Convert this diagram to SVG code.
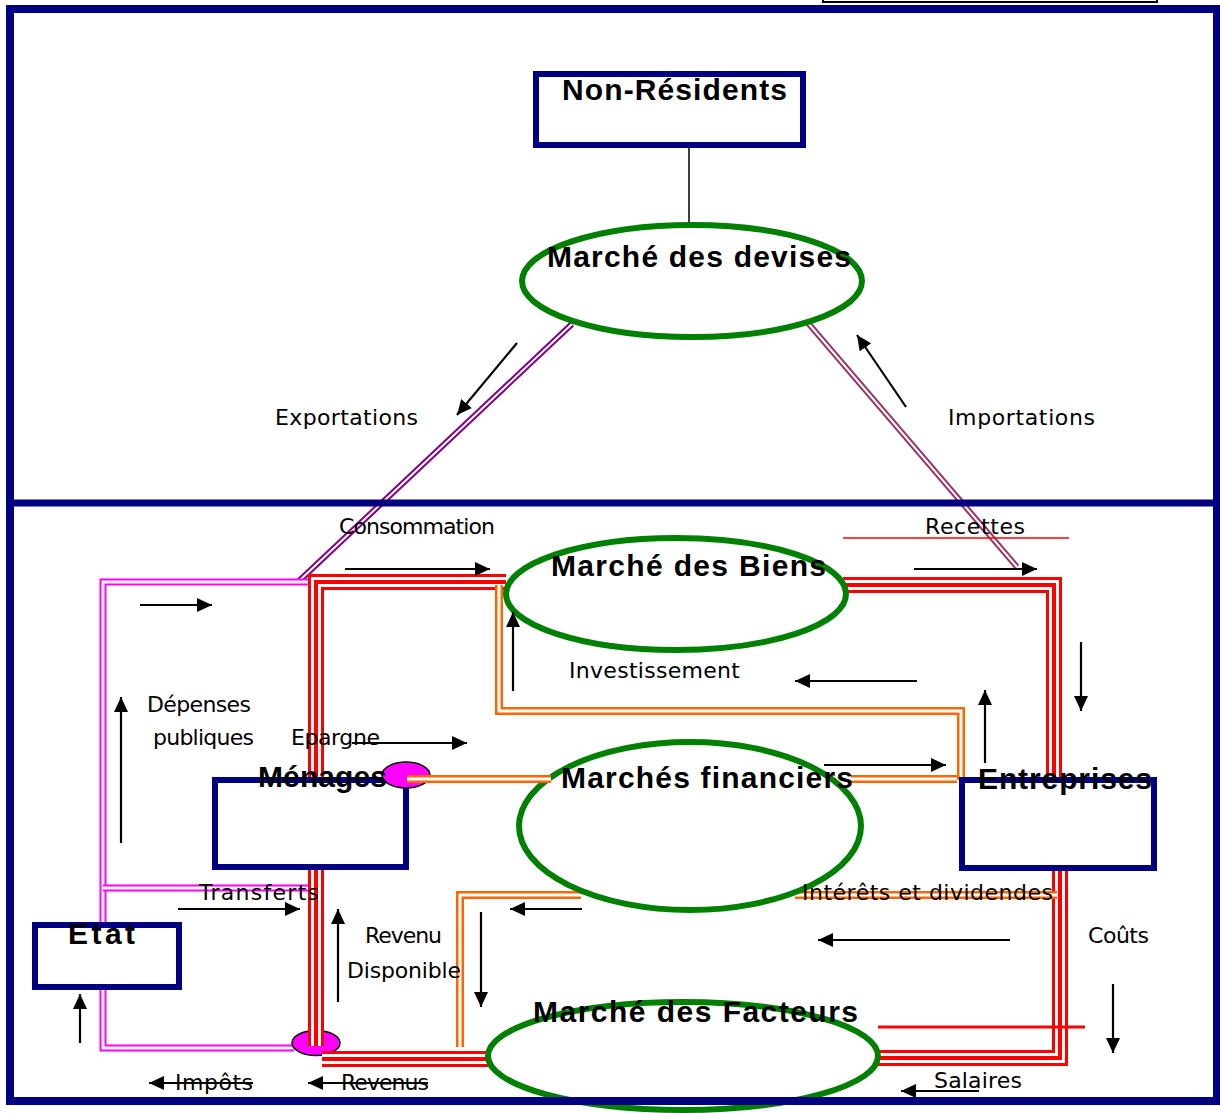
<svg xmlns="http://www.w3.org/2000/svg" width="1220" height="1113" viewBox="0 0 1220 1113">
<style>
.t{font-family:"DejaVu Sans","Liberation Sans",sans-serif;font-size:22px;fill:#000}
.b{font-family:"Liberation Sans","DejaVu Sans",sans-serif;font-size:30px;font-weight:bold;fill:#000}
.box{fill:none;stroke:#000080;stroke-width:6}
.mk{fill:none;stroke:#008000;stroke-width:6}
.ar{stroke:#000;stroke-width:2.2;fill:none;marker-end:url(#ah)}
.r1{fill:none;stroke:#f00;stroke-width:16}
.r2{fill:none;stroke:#fff;stroke-width:10}
.r3{fill:none;stroke:#f00;stroke-width:4}
.o1{fill:none;stroke:#ff6600;stroke-width:8}
.o2{fill:none;stroke:#fff;stroke-width:3}
.m1{fill:none;stroke:#ff00ff;stroke-width:7}
.m2{fill:none;stroke:#fff;stroke-width:3}
.pk{fill:#ff00ff;stroke:#000;stroke-width:1.5}
</style>
<defs>
<marker id="ah" markerUnits="userSpaceOnUse" markerWidth="16" markerHeight="14" refX="15" refY="7" orient="auto"><path d="M0,0 L15,7 L0,14 z" fill="#000"/></marker>
<path id="rA" d="M316,780 V582 H506"/>
<path id="rB" d="M316,868 V1046"/>
<path id="rC" d="M322,1059 H490"/>
<path id="rD" d="M843,585 H1054 V780"/>
<path id="rE" d="M1060,870 V1058 H878"/>
<path id="oA" d="M499,585 V711 H961 V780"/>
<path id="oB" d="M407,779 H551"/>
<path id="oC" d="M851,779 H957"/>
<path id="oD" d="M795,895 H1057"/>
<path id="oE" d="M581,895 H460 V1047"/>
<path id="mA" d="M310,582 H103 V923"/>
<path id="mB" d="M103,888 H316"/>
<path id="mC" d="M103,990 V1048 H294"/>
</defs>
<rect x="0" y="0" width="1220" height="1113" fill="#fff"/>
<rect x="823" y="-20" width="334" height="22" fill="none" stroke="#000" stroke-width="2"/>

<g id="connectors">
<line x1="689" y1="146" x2="689" y2="224" stroke="#000" stroke-width="1.5"/>
<line x1="572" y1="324" x2="299" y2="581" stroke="#800080" stroke-width="6"/>
<line x1="572" y1="324" x2="299" y2="581" stroke="#fff" stroke-width="2"/>
<line x1="808" y1="323" x2="1017" y2="567" stroke="#993366" stroke-width="6"/>
<line x1="808" y1="323" x2="1017" y2="567" stroke="#fff" stroke-width="2"/>
<g>
<use href="#mA" class="m1"/><use href="#mA" class="m2"/>
<use href="#mB" class="m1"/><use href="#mB" class="m2"/>
<use href="#mC" class="m1"/><use href="#mC" class="m2"/>
</g>
<ellipse class="pk" cx="316" cy="1043" rx="24" ry="12.5"/>
<g>
<use href="#rA" class="r1"/><use href="#rA" class="r2"/><use href="#rA" class="r3"/>
<use href="#rB" class="r1"/><use href="#rB" class="r2"/><use href="#rB" class="r3"/>
<use href="#rC" class="r1"/><use href="#rC" class="r2"/><use href="#rC" class="r3"/>
<use href="#rD" class="r1"/><use href="#rD" class="r2"/><use href="#rD" class="r3"/>
<use href="#rE" class="r1"/><use href="#rE" class="r2"/><use href="#rE" class="r3"/>
</g>
<line x1="843" y1="538" x2="1069" y2="538" stroke="#f00" stroke-width="1.5"/>
<line x1="878" y1="1027" x2="1085" y2="1027" stroke="#f00" stroke-width="3"/>
<g>
<use href="#oA" class="o1"/><use href="#oA" class="o2"/>
<use href="#oC" class="o1"/><use href="#oC" class="o2"/>
<use href="#oD" class="o1"/><use href="#oD" class="o2"/>
<use href="#oE" class="o1"/><use href="#oE" class="o2"/>
</g>
</g>

<g id="nonresidents"><rect class="box" x="536" y="74" width="267" height="71"/><text class="b" x="562" y="100" textLength="225">Non-Résidents</text></g>
<g id="devises"><ellipse class="mk" cx="692" cy="281" rx="170" ry="56"/><text class="b" x="547" y="267" textLength="304">Marché des devises</text></g>
<g id="biens"><ellipse class="mk" cx="676" cy="594" rx="170" ry="56"/><text class="b" x="551" y="576" textLength="275">Marché des Biens</text></g>
<g id="financiers"><ellipse class="mk" cx="690" cy="826" rx="171" ry="84"/><text class="b" x="561" y="788" textLength="292">Marchés financiers</text></g>
<g id="facteurs"><ellipse class="mk" cx="683" cy="1056" rx="195" ry="54"/><text class="b" x="533" y="1022" textLength="325">Marché des Facteurs</text></g>
<g id="menages"><rect class="box" x="215" y="780" width="191" height="87"/><ellipse class="pk" cx="406" cy="775" rx="24" ry="13"/><use href="#oB" class="o1"/><use href="#oB" class="o2"/><text class="b" x="258" y="787" textLength="129">Ménages</text></g>
<g id="entreprises"><rect class="box" x="962" y="780" width="192" height="88"/><text class="b" x="978" y="789" textLength="174">Entreprises</text></g>
<g id="etat"><rect class="box" x="35" y="925" width="144" height="62"/><text class="b" x="68" y="944" textLength="67">Etat</text></g>

<g id="labels">
<text class="t" x="275" y="425" textLength="143">Exportations</text>
<text class="t" x="948" y="425" textLength="147">Importations</text>
<text class="t" x="339" y="534" textLength="156">Consommation</text>
<text class="t" x="925" y="534" textLength="100">Recettes</text>
<text class="t" x="569" y="678" textLength="171">Investissement</text>
<text class="t" x="147" y="712" textLength="104">Dépenses</text>
<text class="t" x="153" y="745" textLength="101">publiques</text>
<text class="t" x="291" y="745" textLength="89">Epargne</text>
<text class="t" x="199" y="900" textLength="120">Transferts</text>
<text class="t" x="365" y="943" textLength="77">Revenu</text>
<text class="t" x="347" y="978" textLength="114">Disponible</text>
<text class="t" x="802" y="900" textLength="251">Intérêts et dividendes</text>
<text class="t" x="1088" y="943" textLength="61">Coûts</text>
<text class="t" x="175" y="1090" textLength="78">Impôts</text>
<text class="t" x="341" y="1090" textLength="88">Revenus</text>
<text class="t" x="934" y="1088" textLength="88">Salaires</text>
</g>

<g id="arrows">
<line class="ar" x1="517" y1="343" x2="457" y2="415"/>
<line class="ar" x1="906" y1="407" x2="857" y2="335"/>
<line class="ar" x1="345" y1="569" x2="490" y2="569"/>
<line class="ar" x1="914" y1="569" x2="1037" y2="569"/>
<line class="ar" x1="140" y1="605" x2="212" y2="605"/>
<line class="ar" x1="121" y1="843" x2="121" y2="697"/>
<line class="ar" x1="352" y1="743" x2="467" y2="743"/>
<line class="ar" x1="513" y1="691" x2="513" y2="612"/>
<line class="ar" x1="917" y1="681" x2="795" y2="681"/>
<line class="ar" x1="1081" y1="642" x2="1081" y2="711"/>
<line class="ar" x1="985" y1="763" x2="985" y2="690"/>
<line class="ar" x1="824" y1="765" x2="946" y2="765"/>
<line class="ar" x1="178" y1="909" x2="300" y2="909"/>
<line class="ar" x1="338" y1="1002" x2="338" y2="909"/>
<line class="ar" x1="582" y1="909" x2="510" y2="909"/>
<line class="ar" x1="481" y1="912" x2="481" y2="1007"/>
<line class="ar" x1="80" y1="1043" x2="80" y2="994"/>
<line class="ar" x1="1010" y1="940" x2="818" y2="940"/>
<line class="ar" x1="1113" y1="984" x2="1113" y2="1053"/>
<line class="ar" x1="253" y1="1083" x2="149" y2="1083"/>
<line class="ar" x1="428" y1="1083" x2="308" y2="1083"/>
<line class="ar" x1="979" y1="1091" x2="901" y2="1091"/>
</g>

<g id="frame">
<rect x="10" y="9" width="1207" height="1092" fill="none" stroke="#000080" stroke-width="8"/>
<line x1="10" y1="503" x2="1217" y2="503" stroke="#000080" stroke-width="7"/>
</g>
</svg>
